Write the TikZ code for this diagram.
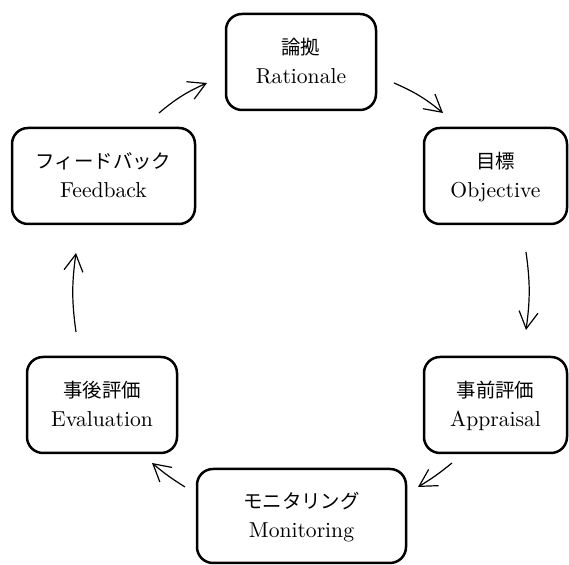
\documentclass[tikz,border=0pt]{standalone}
\usepackage{fontspec}
\newfontfamily\jp{Noto Sans CJK JP}[Scale=0.9]
\usetikzlibrary{arrows.meta}

\begin{document}
\begin{tikzpicture}[x=0.5pt,y=0.5pt,
  stage/.style={draw, line width=1.25pt, rounded corners=8pt, align=center,
    font=\fontsize{10.8}{14.5}\selectfont, text height=22pt, text depth=0pt,
    inner sep=0pt, minimum height=48pt},
  flow/.style={line width=0.6pt, -{Straight Barb[length=8.5pt,width=9.5pt]}}]
\useasboundingbox (0,0) rectangle (569,565);

% stages of the cycle
\node[stage, minimum width=75pt]    (rat) at (301,503)   {{\jp 論拠}\\Rationale};
\node[stage, minimum width=71.5pt]  (obj) at (495.5,389) {{\jp 目標}\\Objective};
\node[stage, minimum width=71.5pt]  (app) at (495.5,160) {{\jp 事前評価}\\Appraisal};
\node[stage, minimum width=104.5pt, minimum height=47pt] (mon) at (301.5,49) {{\jp モニタリング}\\Monitoring};
\node[stage, minimum width=75pt]    (eva) at (102,160)   {{\jp 事後評価}\\Evaluation};
\node[stage, minimum width=91.5pt]  (fb)  at (103.5,389) {{\jp フィードバック}\\Feedback};

% arrow end points between the stages
\coordinate (fb-out)  at (159,452);  \coordinate (rat-in)  at (207,482);
\coordinate (rat-out) at (394,482);  \coordinate (obj-in)  at (443,452);
\coordinate (obj-out) at (526,313);  \coordinate (app-in)  at (526,235);
\coordinate (app-out) at (452,102);  \coordinate (mon-in)  at (418,78);
\coordinate (mon-out) at (185,78);   \coordinate (eva-in)  at (152,102);
\coordinate (eva-out) at (76,233);   \coordinate (fb-in)   at (76,312);

\draw[flow] (fb-out)  to[bend left=8] (rat-in);
\draw[flow] (rat-out) to[bend left=8] (obj-in);
\draw[flow] (obj-out) to[bend left=8] (app-in);
\draw[flow] (app-out) to[bend left=4] (mon-in);
\draw[flow] (mon-out) to[bend left=4] (eva-in);
\draw[flow] (eva-out) to[bend left=8] (fb-in);
\end{tikzpicture}
\end{document}
